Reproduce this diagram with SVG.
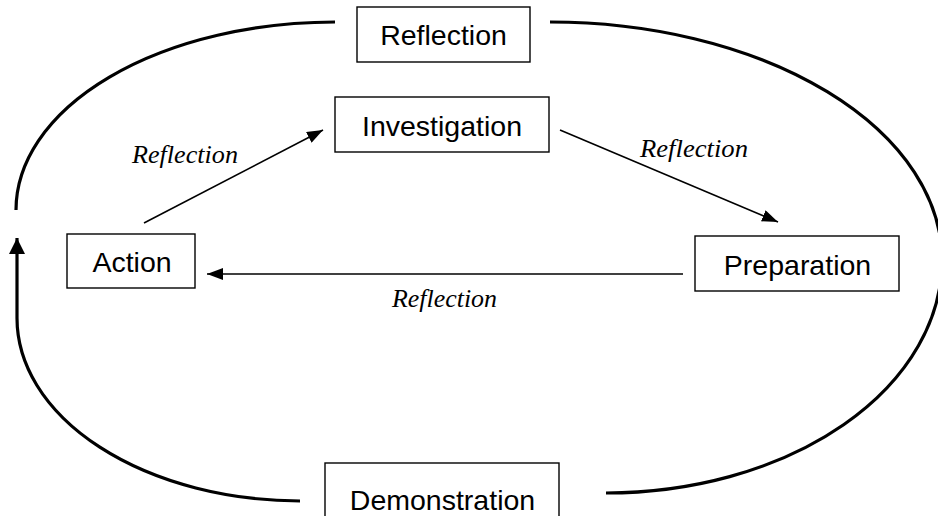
<svg xmlns="http://www.w3.org/2000/svg" width="938" height="516" viewBox="0 0 938 516">
<style>
.box{fill:#fff;stroke:#000;stroke-width:1.4}
.bt{font-family:"Liberation Sans",Arial,sans-serif;font-size:28.5px;fill:#000;text-anchor:middle}
.lab{font-family:"Liberation Serif","Times New Roman",serif;font-style:italic;font-size:25px;fill:#000}
.arc{fill:none;stroke:#000;stroke-width:3.2}
.arr{fill:none;stroke:#000;stroke-width:1.6}
</style>
<defs>
<marker id="ah" markerUnits="userSpaceOnUse" markerWidth="16" markerHeight="12" refX="16" refY="6" orient="auto">
<path d="M0,0 L16,6 L0,12 z" fill="#000"/>
</marker>
<marker id="ahb" markerUnits="userSpaceOnUse" markerWidth="16" markerHeight="16" refX="16" refY="8" orient="auto">
<path d="M0,0 L16,8 L0,16 z" fill="#000"/>
</marker>
</defs>
<g id="connectors">
<path class="arc" d="M16,210 A319,188 0 0 1 335,22"/>
<path class="arc" d="M550,22 A392,238 0 0 1 942,260"/>
<path class="arc" d="M942,260 A336,233 0 0 1 606,493"/>
<path class="arc" d="M300,501 A284,183 0 0 1 17,318"/>
<path class="arc" d="M17,318 L17,238" marker-end="url(#ahb)"/>
<path class="arr" d="M144,223 L323,130" marker-end="url(#ah)"/>
<path class="arr" d="M560,130 L778,222" marker-end="url(#ah)"/>
<path class="arr" d="M683,274 L207,274" marker-end="url(#ah)"/>
<text class="lab" x="132" y="163" textLength="106" lengthAdjust="spacingAndGlyphs">Reflection</text>
<text class="lab" x="640" y="157" textLength="108" lengthAdjust="spacingAndGlyphs">Reflection</text>
<text class="lab" x="392" y="307" textLength="105" lengthAdjust="spacingAndGlyphs">Reflection</text>
</g>
<g id="reflection">
<rect class="box" x="357" y="7" width="173" height="55"/>
<text class="bt" x="443.5" y="45">Reflection</text>
</g>
<g id="investigation">
<rect class="box" x="335" y="97" width="214" height="55"/>
<text class="bt" x="442" y="136">Investigation</text>
</g>
<g id="action">
<rect class="box" x="67" y="234" width="128" height="54"/>
<text class="bt" x="132" y="272">Action</text>
</g>
<g id="preparation">
<rect class="box" x="695" y="236" width="204" height="55"/>
<text class="bt" x="797.5" y="275">Preparation</text>
</g>
<g id="demonstration">
<rect class="box" x="325" y="463" width="234" height="60"/>
<text class="bt" x="442.5" y="510">Demonstration</text>
</g>
</svg>
